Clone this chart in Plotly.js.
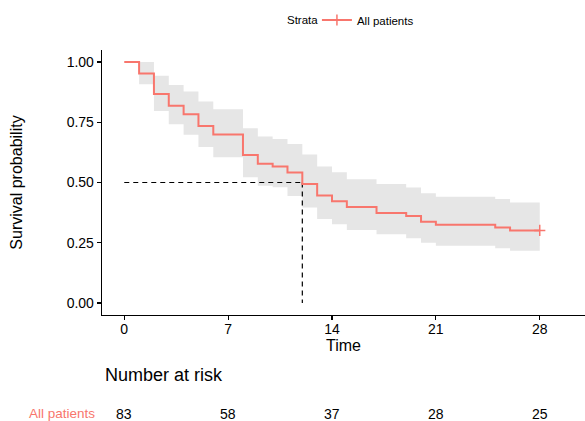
<!DOCTYPE html>
<html>
<head>
<meta charset="utf-8">
<script src="https://cdn.plot.ly/plotly-3.0.1.min.js"></script>
<style>html,body{margin:0;padding:0;overflow:hidden;background:#fff;}</style>
</head>
<body>
<div id="chart" style="width:585px;height:421px;"></div>
<script>
// Kaplan-Meier estimate
const times = [0,1,2,3,4,5,6,8,9,10,11,12,13,14,15,17,19,20,21,25,26,28];
const surv  = [1.000,0.952,0.867,0.819,0.783,0.735,0.699,0.614,0.578,0.566,0.542,0.494,0.446,0.422,0.398,0.373,0.361,0.337,0.325,0.313,0.301,0.301];
const upper = [1.000,1.000,0.943,0.905,0.878,0.836,0.804,0.725,0.691,0.681,0.660,0.616,0.566,0.543,0.514,0.494,0.479,0.455,0.441,0.431,0.417,0.417];
const lower = [1.000,0.908,0.797,0.742,0.698,0.647,0.605,0.522,0.487,0.480,0.444,0.396,0.349,0.327,0.303,0.285,0.269,0.250,0.237,0.227,0.217,0.217];
const censorTimes = [28];
const censorSurv  = [0.301];
const medianTime = 12;
const medianSurv = 0.5;
const riskTimes  = [0,7,14,21,28];
const riskCounts = [83,58,37,28,25];
const strataName = 'All patients';
const legendTitle = 'Strata';
const xTicks = [0,7,14,21,28];
const yTicks = [0,0.25,0.5,0.75,1];
const yTickText = ['0.00','0.25','0.50','0.75','1.00'];

const col = '#F8766D';
const FONT = 'Liberation Sans, Arial, sans-serif';

const traces = [
  {x: times, y: lower, mode:'lines', line:{shape:'hv', width:0, color:'rgba(0,0,0,0)'}, showlegend:false, hoverinfo:'skip'},
  {x: times, y: upper, mode:'lines', line:{shape:'hv', width:0, color:'rgba(0,0,0,0)'}, fill:'tonexty', fillcolor:'#e6e6e6', showlegend:false, hoverinfo:'skip'},
  {x: [0, medianTime], y: [medianSurv, medianSurv], mode:'lines', line:{color:'#000', width:1.2, dash:'5px,4px'}, showlegend:false},
  {x: [medianTime, medianTime], y: [medianSurv, 0], mode:'lines', line:{color:'#000', width:1.2, dash:'5px,4px'}, showlegend:false},
  {x: times, y: surv, mode:'lines', line:{shape:'hv', color:col, width:2}, showlegend:false},
  {x: censorTimes, y: censorSurv, mode:'lines+markers', name: strataName, line:{color:col, width:2},
   marker:{symbol:'cross-thin', size:8, color:col, line:{color:col, width:1.5}}, showlegend:true}
];

const annotations = [
  {xref:'paper', yref:'paper', x:(285-102)/483, y:(315-20)/265, xanchor:'left', yanchor:'middle', showarrow:false,
   text:legendTitle, font:{family:FONT, size:11.5, color:'#000'}},
  {xref:'paper', yref:'paper', x:0.002, y:-0.225, xanchor:'left', yanchor:'middle', showarrow:false,
   text:'Number at risk', font:{family:FONT, size:18, color:'#000'}},
  {xref:'paper', yref:'paper', x:-0.011, y:-0.372, xanchor:'right', yanchor:'middle', showarrow:false,
   text:strataName, font:{family:FONT, size:13.5, color:col}}
];
riskTimes.forEach((t,i)=>{
  annotations.push({xref:'x', yref:'paper', x:t, y:-0.372, xanchor:'center', yanchor:'middle', showarrow:false,
    text:String(riskCounts[i]), font:{family:FONT, size:14, color:'#000'}});
});

const layout = {
  width:585, height:421,
  margin:{l:102, r:0, t:50, b:106},
  paper_bgcolor:'#fff', plot_bgcolor:'#fff',
  font:{family:FONT, color:'#000'},
  showlegend:true,
  legend:{orientation:'h', x:0.445, xanchor:'left', y:(315-20)/265, yanchor:'middle',
    font:{family:FONT, size:11.5, color:'#000'}, itemwidth:30,
    bgcolor:'rgba(0,0,0,0)'},
  xaxis:{range:[-1.5,31.05], tickvals:xTicks, ticktext:xTicks.map(String), showgrid:false, zeroline:false,
    showline:true, linecolor:'#000', linewidth:1.3, ticks:'outside', ticklen:4, tickwidth:1.2, tickcolor:'#000',
    ticklabelstandoff:-3,
    tickfont:{family:FONT, size:14, color:'#000'},
    title:{text:'Time', font:{family:FONT, size:16, color:'#000'}, standoff:2}},
  yaxis:{range:[-0.05,1.05], tickvals:yTicks, ticktext:yTickText, showgrid:false, zeroline:false,
    showline:true, linecolor:'#000', linewidth:1.3, ticks:'outside', ticklen:4, tickwidth:1.2, tickcolor:'#000',
    tickfont:{family:FONT, size:14, color:'#000'},
    title:{text:'Survival probability', font:{family:FONT, size:16, color:'#000'}, standoff:40}},
  annotations: annotations
};

Plotly.newPlot('chart', traces, layout, {displayModeBar:false, staticPlot:true});
</script>
</body>
</html>
